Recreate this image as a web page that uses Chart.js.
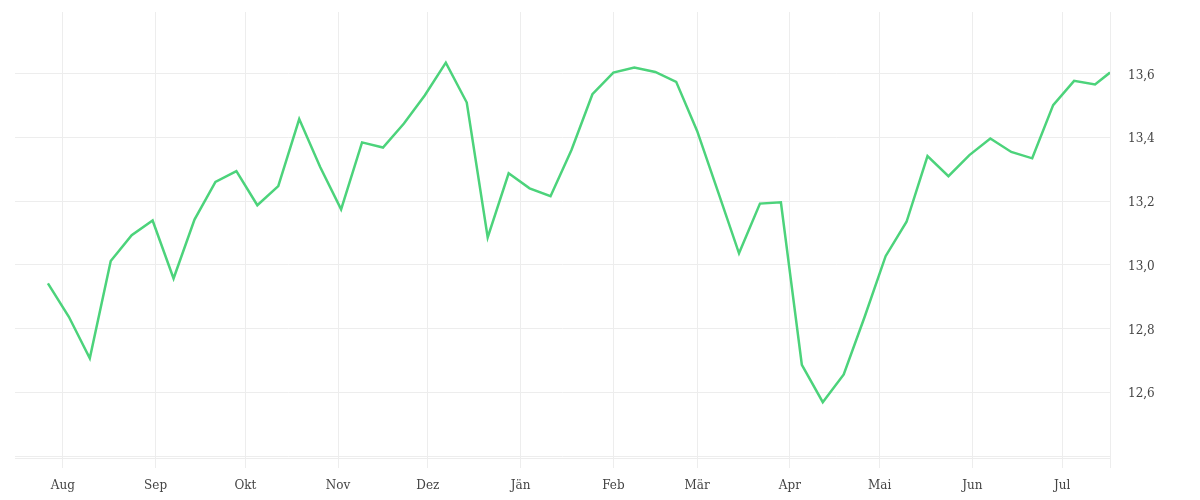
<!DOCTYPE html>
<html>
<head>
<meta charset="utf-8">
<script src="https://cdn.jsdelivr.net/npm/chart.js@4"></script>
<style>
  body { margin: 0; background: #fff; }
  #wrap { width: 1200px; height: 500px; }
</style>
</head>
<body>
<div id="wrap"><canvas id="myChart" width="1200" height="500"></canvas></div>
<script>
// days counted from 1 Aug
var monthLabels = ["Aug", "Sep", "Okt", "Nov", "Dez", "Jän", "Feb", "Mär", "Apr", "Mai", "Jun", "Jul"];
var monthDays = [0, 31, 61, 92, 122, 153, 184, 212, 243, 273, 304, 334];
var pointDays = [-5, 2, 9, 16, 23, 30, 37, 44, 51, 58, 65, 72, 79, 86, 93, 100, 107, 114, 121, 128,
    135, 142, 149, 156, 163, 170, 177, 184, 191, 198, 205, 212, 219, 226, 233, 240, 247, 254, 261, 268,
    275, 282, 289, 296, 303, 310, 317, 324, 331, 338, 345, 350];
var values = [12.942, 12.837, 12.707, 13.012, 13.093, 13.139, 12.957, 13.142, 13.260, 13.294,
    13.187, 13.247, 13.457, 13.307, 13.174, 13.384, 13.368, 13.443, 13.532, 13.634,
    13.509, 13.086, 13.287, 13.240, 13.215, 13.360, 13.535, 13.603, 13.619, 13.605,
    13.574, 13.420, 13.229, 13.036, 13.192, 13.196, 12.686, 12.569, 12.656, 12.837,
    13.027, 13.135, 13.341, 13.278, 13.344, 13.396, 13.354, 13.334, 13.501, 13.577,
    13.566, 13.603];
var yTicks = [12.4, 12.6, 12.8, 13.0, 13.2, 13.4, 13.6];

var points = [];
for (var i = 0; i < values.length; i++) {
    points.push({ x: pointDays[i], y: values[i] });
}

var gridColor = "#ededed";
var fontSpec = { family: "DejaVu Serif", size: 12 };

new Chart("myChart", {
    type: "line",
    data: {
        datasets: [{
            data: points,
            borderColor: "#4cd37b",
            borderWidth: 2.5,
            pointRadius: 0,
            tension: 0,
            fill: false
        }]
    },
    options: {
        responsive: false,
        animation: false,
        layout: { padding: { left: 15, top: 12, right: 0, bottom: 0 } },
        plugins: {
            legend: { display: false },
            tooltip: { enabled: false }
        },
        scales: {
            x: {
                type: "linear",
                min: -16,
                max: 350,
                grid: { color: gridColor, tickLength: 10 },
                border: { color: gridColor },
                afterBuildTicks: function (scale) {
                    var t = monthDays.map(function (d) { return { value: d }; });
                    t.push({ value: 350 });
                    scale.ticks = t;
                },
                afterFit: function (scale) {
                    scale.height = 42;
                    scale.paddingLeft = 0;
                    scale.paddingRight = 0;
                },
                ticks: {
                    autoSkip: false,
                    maxRotation: 0,
                    padding: 11,
                    color: "#444",
                    font: fontSpec,
                    callback: function (value) {
                        var idx = monthDays.indexOf(value);
                        return idx >= 0 ? monthLabels[idx] : "";
                    }
                }
            },
            y: {
                position: "right",
                min: 12.394,
                max: 13.793,
                grid: { color: gridColor, drawTicks: false },
                border: { display: false },
                afterBuildTicks: function (scale) {
                    scale.ticks = yTicks.map(function (v) { return { value: v }; });
                },
                afterFit: function (scale) {
                    scale.width = 90;
                    scale.paddingTop = 0;
                    scale.paddingBottom = 0;
                },
                ticks: {
                    padding: 18,
                    labelOffset: 2,
                    color: "#444",
                    font: fontSpec,
                    callback: function (value) {
                        if (Math.abs(value - 12.4) < 0.001) return "";
                        return value.toFixed(1).replace(".", ",");
                    }
                }
            }
        }
    }
});
</script>
</body>
</html>
